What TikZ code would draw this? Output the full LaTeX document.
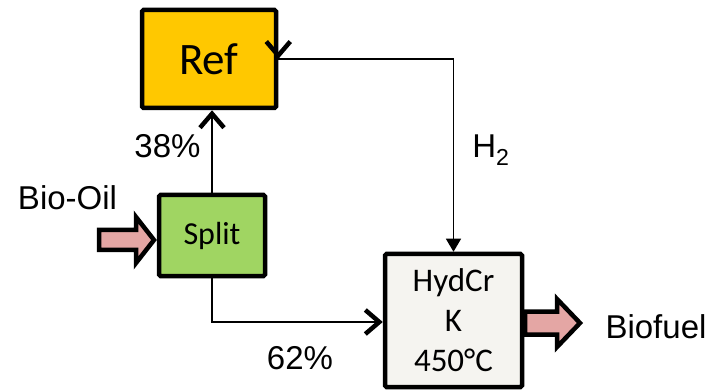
\documentclass[tikz,border=0pt]{standalone}
\usepackage{fontspec}
\setmainfont{Liberation Sans}
\newfontfamily\calfont{Carlito}
\usetikzlibrary{arrows.meta}
\definecolor{refgold}{RGB}{255,200,0}
\definecolor{splitgreen}{RGB}{160,213,98}
\definecolor{hydgray}{RGB}{245,244,240}
\definecolor{fatpink}{RGB}{228,166,164}
\tikzset{
  box/.style={draw=black, line width=4.5pt, rounded corners=1.5pt, inner sep=0pt, align=center, font=\calfont},
  conn/.style={draw=black, line width=1.3pt},
  openarrow/.style={conn, -{Straight Barb[length=14pt,width=24pt,line width=4.5pt]}},
  triarrow/.style={conn, -{Triangle[length=13pt,width=15pt]}},
  fat/.style={draw=black, fill=fatpink, line width=4.5pt, line join=miter, miter limit=10},
  lbl/.style={font=\fontsize{33}{40}\selectfont, inner sep=0pt, anchor=base},
}
\begin{document}
\begin{tikzpicture}[x=1pt,y=-1pt]
\useasboundingbox (0,0) rectangle (723,390);
% boxes
\node[box, fill=refgold, minimum width=134pt, minimum height=98pt, font=\calfont\fontsize{45}{50}\selectfont] (ref) at (209,59) {Ref};
\node[box, fill=splitgreen, minimum width=106pt, minimum height=81pt, font=\calfont\fontsize{32}{38}\selectfont] (split) at (212,235.5) {Split};
\node[box, fill=hydgray, minimum width=137pt, minimum height=133pt, font=\calfont\fontsize{33}{40}\selectfont] (hyd) at (453.5,320.5) {HydCr\\K\\450°C};
% connectors
\draw[openarrow] (split.north) -- (split.north |- ref.south);
\draw[triarrow] (ref.east) -| (hyd.north);
\draw[openarrow] ([yshift=1pt]ref.east) -- (ref.east);
\draw[openarrow] (split.south) |- ([yshift=-1.5pt]hyd.west);
% fat arrows
\draw[fat] (99,230) -- (136,230) -- (136,217) -- (154,240) -- (136,263) -- (136,250) -- (99,250) -- cycle;
\draw[fat] (525,311.5) -- (557,311.5) -- (557,299) -- (580,323) -- (557,347) -- (557,334.5) -- (525,334.5) -- cycle;
% labels
\node[lbl] (p38) at (167.5,158) {38\%};
\node[lbl] (p62) at (300,369) {62\%};
\node[lbl] (h2) at (491,158) {H\textsubscript{2}};
\node[lbl] (biooil) at (67.5,210) {Bio-Oil};
\node[lbl] (biofuel) at (656,338) {Biofuel};
\end{tikzpicture}
\end{document}
